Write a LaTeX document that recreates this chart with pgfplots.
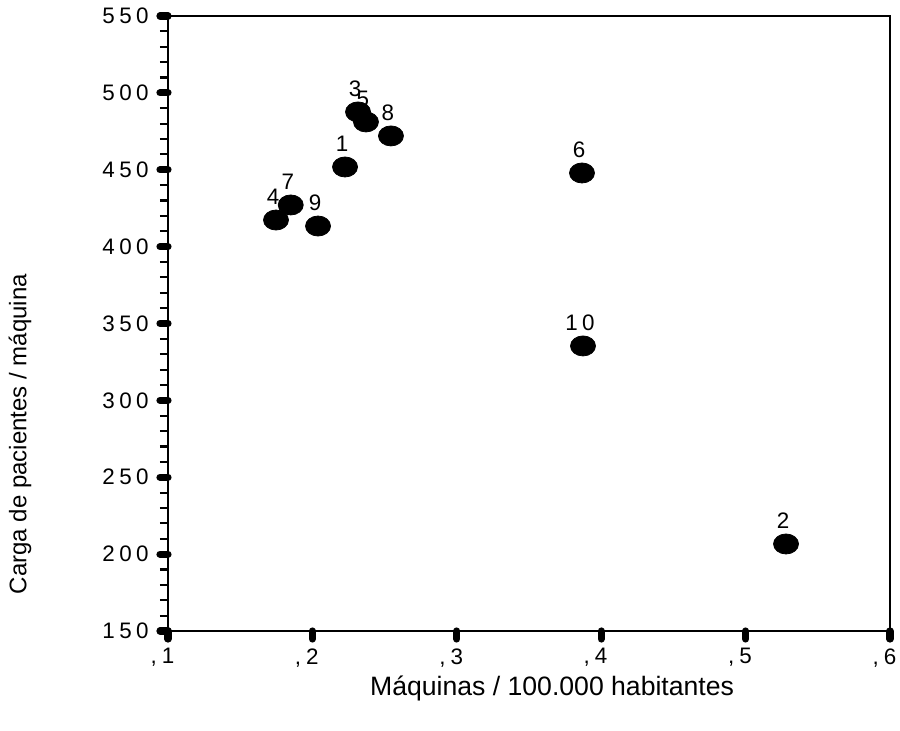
\documentclass[border=0pt]{standalone}
\usepackage{pgfplots}
\pgfplotsset{compat=1.18}
\usepackage{fontspec}
\setmainfont{Liberation Sans}
% spaced digits, as in the original output
\newcommand{\ds}{\kern2.2bp}

\begin{document}
\begin{tikzpicture}
\begin{axis}[
  name=ax,
  scale only axis,width=361bp,height=307.5bp,
  xmin=0.1,xmax=0.6,ymin=150,ymax=550,
  font=\fontsize{11.2bp}{14bp}\selectfont,
  axis line style={line width=1.1bp,black},
  tick pos=left,tick align=outside,
  major tick length=4bp,
  every major tick/.style={line width=3.6bp,line cap=round,black},
  minor tick length=4bp,
  every minor tick/.style={line width=1.1bp,black},
  minor y tick num=4,minor x tick num=0,
  xtick={0.1,0.2,0.3,0.4,0.5,0.6},
  xticklabels={\llap{,\kern2.5bp}1,\llap{,\kern2.5bp}2,\llap{,\kern2.5bp}3,\llap{,\kern2.5bp}4,\llap{,\kern2.5bp}5,\llap{,\kern2.5bp}6},
  ytick={150,200,250,300,350,400,450,500,550},
  yticklabels={1\ds5\ds0,2\ds0\ds0,2\ds5\ds0,3\ds0\ds0,3\ds5\ds0,4\ds0\ds0,4\ds5\ds0,5\ds0\ds0,5\ds5\ds0},
  yticklabel style={anchor=east,inner sep=0pt,xshift=-5.5bp},
  xticklabel style={anchor=north,inner sep=0pt,yshift=-4.5bp},
  xlabel={Máquinas / 100.000 habitantes},
  ylabel={Carga de pacientes / máquina},
  every axis x label/.style={at={(axis description cs:0.532,-0.0935)},anchor=center,font=\fontsize{13.3bp}{15bp}\selectfont},
  every axis y label/.style={at={(axis description cs:-0.205,0.32)},anchor=center,rotate=90,font=\fontsize{12bp}{14bp}\selectfont},
  clip=false,
]
\addplot[only marks,mark=*,mark size=5bp,mark options={xscale=1.25,fill=black,draw=black},
  point meta=explicit symbolic,
  nodes near coords,
  nodes near coords style={anchor=south,inner sep=0pt,yshift=7.5bp,xshift=-1.5bp,font=\fontsize{11.2bp}{14bp}\selectfont}]
coordinates {
  (0.2226,451.8) [1]
  (0.5280,206.6) [2]
  (0.2316,487.6) [3]
  (0.1748,417.3) [4]
  (0.2371,481.1) [5]
  (0.3867,447.9) [6]
  (0.1850,427.1) [7]
  (0.2544,472.0) [8]
  (0.2039,413.4) [9]
  (0.3874,335.4) [1\ds0]
};
\end{axis}
\pgfresetboundingbox
\path[use as bounding box] ([shift={(-84bp,-50bp)}]ax.south west) rectangle ([shift={(5bp,8bp)}]ax.north east);
\end{tikzpicture}
\end{document}
